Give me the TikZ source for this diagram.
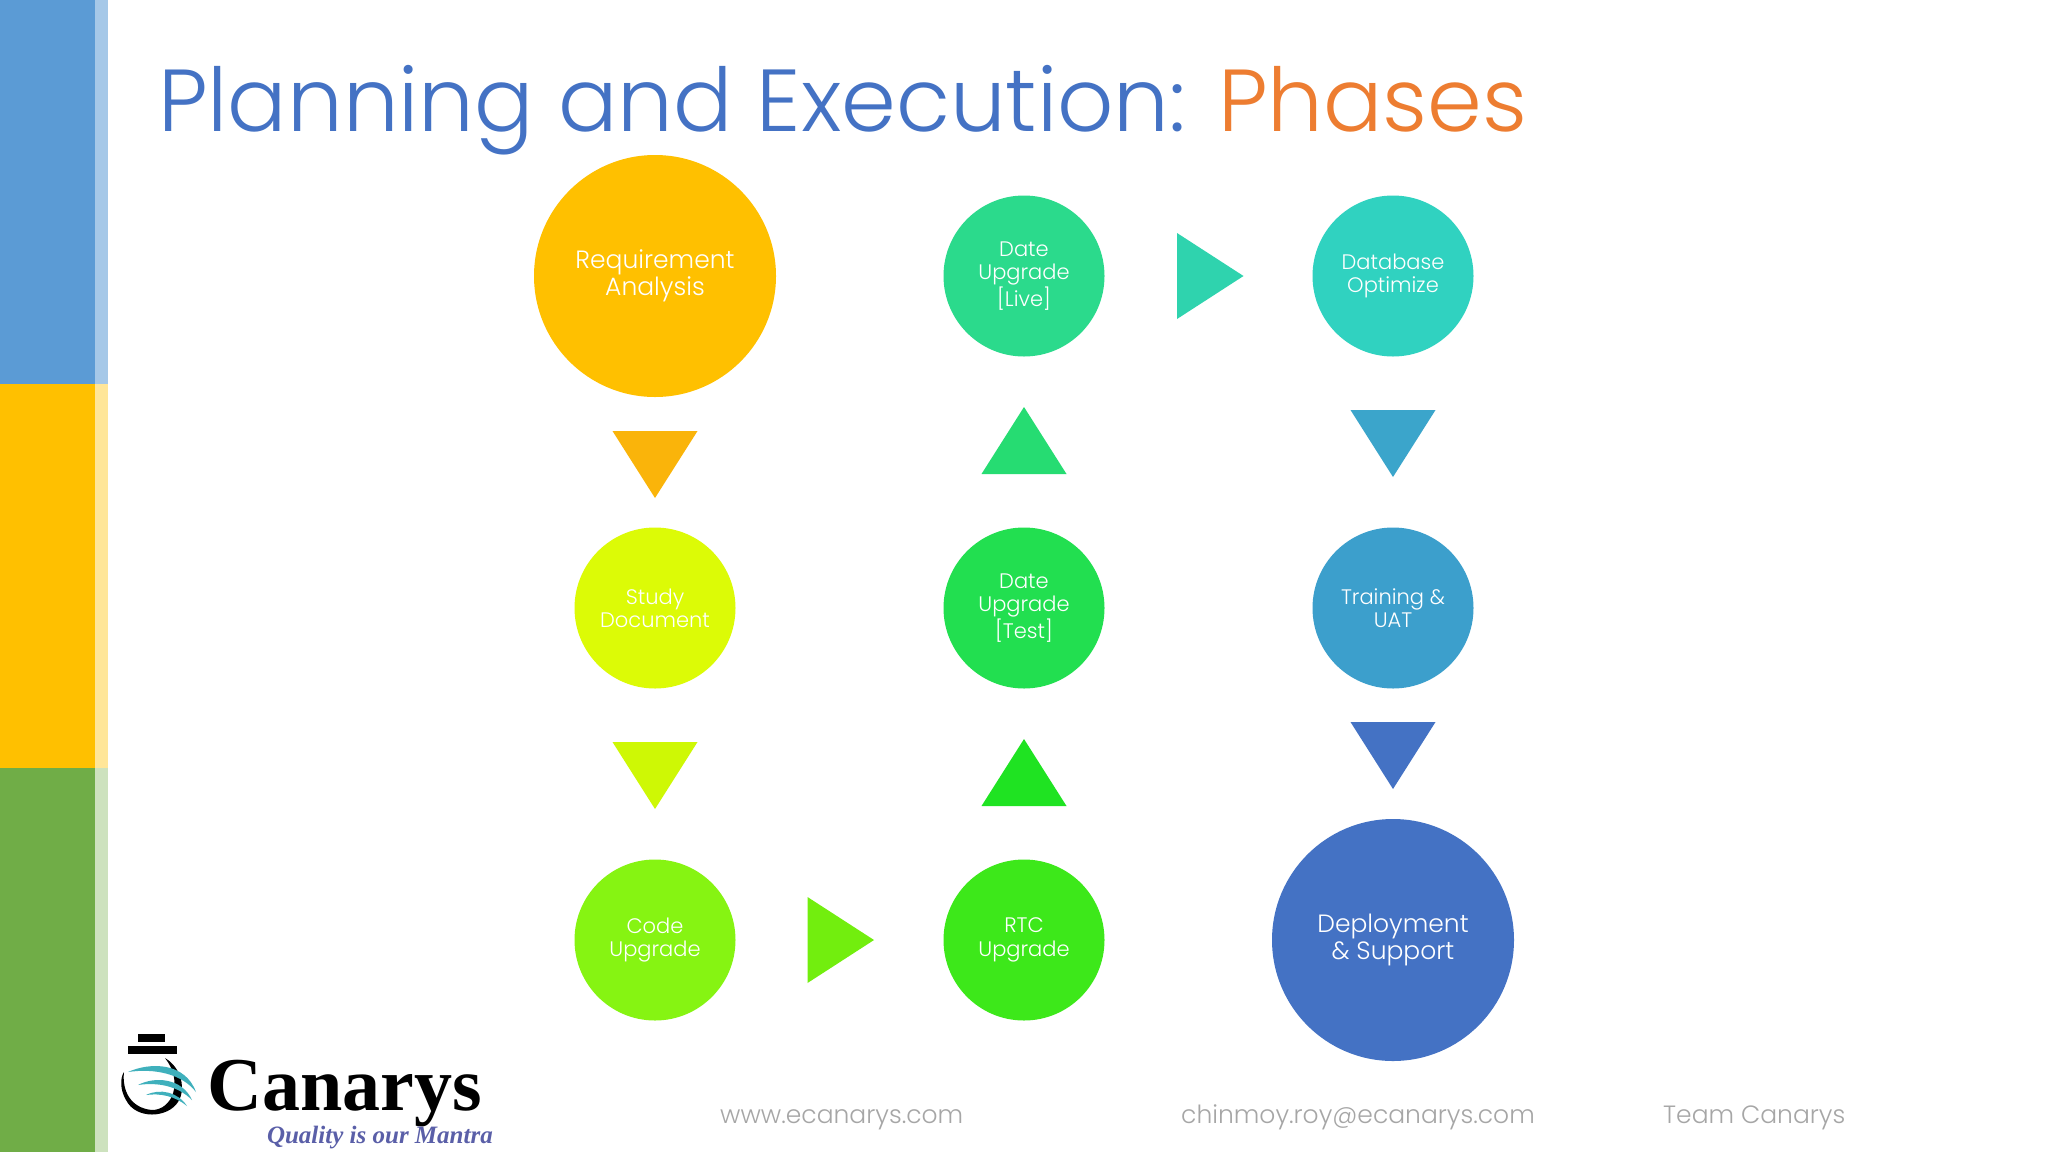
\documentclass[tikz,border=0pt]{standalone}
\usepackage{fontspec}
\setmainfont{Poppins}[UprightFont=* Light]
\newfontfamily\logofont{Liberation Serif}
\usetikzlibrary{shapes.geometric}
\definecolor{barblue}{HTML}{5B9BD5}
\definecolor{baryel}{HTML}{FFC000}
\definecolor{bargrn}{HTML}{70AD47}
\definecolor{titleblue}{HTML}{4472C4}
\definecolor{titleorg}{HTML}{ED7D31}
\definecolor{foot}{HTML}{A6A6A6}
\definecolor{logotxt}{HTML}{5A5FA8}
\definecolor{logoteal}{HTML}{3FB0BC}
\tikzset{
  big/.style={circle,minimum size=242pt,inner sep=0pt,align=center,text=white,font=\fontsize{25}{27.5}\selectfont},
  small/.style={circle,minimum size=161pt,inner sep=0pt,align=center,text=white,font=\fontsize{21}{23.3}\selectfont},
  foottext/.style={anchor=base west,inner sep=0pt,text=foot,font=\fontsize{25}{30}\selectfont},
}
\begin{document}
\begin{tikzpicture}[x=1pt,y=-1pt]
\useasboundingbox (0,0) rectangle (2048,1152);
\fill[white] (0,0) rectangle (2048,1152);
% side bars
\fill[barblue] (0,0) rectangle (95,384);
\fill[baryel] (0,384) rectangle (95,768);
\fill[bargrn] (0,768) rectangle (95,1152);
\fill[barblue!55!white] (95,0) rectangle (108,384);
\fill[baryel!40!white] (95,384) rectangle (108,768);
\fill[bargrn!35!white] (95,768) rectangle (108,1152);
% title
\node[anchor=base west,inner sep=0pt,font=\fontsize{88}{100}\selectfont] (title) at (158,131)
  {\textcolor{titleblue}{Planning and Execution:} \textcolor{titleorg}{Phases}};
% circles
\node[big,fill={rgb,255:red,255;green,192;blue,0}] (req) at (655,276) {Requirement\\Analysis};
\node[small,fill={rgb,255:red,220;green,251;blue,6}] (study) at (655,608) {Study\\Document};
\node[small,fill={rgb,255:red,134;green,244;blue,18}] (code) at (655,940) {Code\\Upgrade};
\node[small,fill={rgb,255:red,61;green,232;blue,26}] (rtc) at (1024,940) {RTC\\Upgrade};
\node[small,fill={rgb,255:red,34;green,223;blue,80}] (dtest) at (1024,608) {Date\\Upgrade\\{[Test]}};
\node[small,fill={rgb,255:red,43;green,218;blue,140}] (dlive) at (1024,276) {Date\\Upgrade\\{[Live]}};
\node[small,fill={rgb,255:red,48;green,210;blue,192}] (dbo) at (1393,276) {Database\\Optimize};
\node[small,fill={rgb,255:red,60;green,159;blue,204}] (uat) at (1393,608) {Training \&\\UAT};
\node[big,fill=titleblue] (dep) at (1393,940) {Deployment\\\& Support};
% triangles
\fill[fill={rgb,255:red,250;green,180;blue,10}] (612.5,431) -- (697.5,431) -- (655,498) -- cycle;
\fill[fill={rgb,255:red,206;green,248;blue,5}] (612.5,742) -- (697.5,742) -- (655,809) -- cycle;
\fill[fill={rgb,255:red,114;green,238;blue,14}] (807.5,897) -- (874,940) -- (807.5,983) -- cycle;
\fill[fill={rgb,255:red,31;green,227;blue,34}] (981.5,806) -- (1066.5,806) -- (1024,739) -- cycle;
\fill[fill={rgb,255:red,38;green,220;blue,114}] (981.5,474) -- (1066.5,474) -- (1024,407) -- cycle;
\fill[fill={rgb,255:red,47;green,211;blue,174}] (1177,233) -- (1243.5,276) -- (1177,319) -- cycle;
\fill[fill={rgb,255:red,59;green,165;blue,203}] (1350.5,410) -- (1435.5,410) -- (1393,477) -- cycle;
\fill[fill=titleblue] (1350.5,722) -- (1435.5,722) -- (1393,789) -- cycle;
% footer
\node[foottext] (f1) at (720,1123) {www.ecanarys.com};
\node[foottext] (f2) at (1181,1123) {chinmoy.roy@ecanarys.com};
\node[foottext] (f3) at (1663,1123) {Team Canarys};
% logo
\fill[black] (138,1034) rectangle (165,1042);
\fill[black] (128,1046) rectangle (177,1054);
\fill[black] (165,1058) .. controls (182,1068) and (186,1090) .. (178,1102)
  .. controls (168,1118) and (136,1120) .. (126,1100)
  .. controls (120,1090) and (120,1078) .. (124,1072)
  .. controls (122,1090) and (130,1108) .. (152,1110)
  .. controls (172,1110) and (184,1082) .. (165,1058) -- cycle;
\fill[logoteal] (128,1072) .. controls (150,1062) and (185,1062) .. (196,1092)
  .. controls (182,1074) and (155,1068) .. (128,1072) -- cycle;
\fill[logoteal] (138,1085) .. controls (155,1076) and (182,1078) .. (192,1100)
  .. controls (178,1086) and (158,1082) .. (138,1085) -- cycle;
\fill[logoteal] (146,1095) .. controls (160,1088) and (178,1092) .. (187,1106)
  .. controls (175,1096) and (160,1093) .. (146,1095) -- cycle;
\node[anchor=base west,inner sep=0pt,font=\logofont\bfseries\fontsize{76}{80}\selectfont] (canarys) at (207,1110) {Canarys};
\node[anchor=base east,inner sep=0pt,text=logotxt,font=\logofont\bfseries\itshape\fontsize{25}{28}\selectfont] (mantra) at (493,1143) {Quality is our Mantra};
\end{tikzpicture}
\end{document}
